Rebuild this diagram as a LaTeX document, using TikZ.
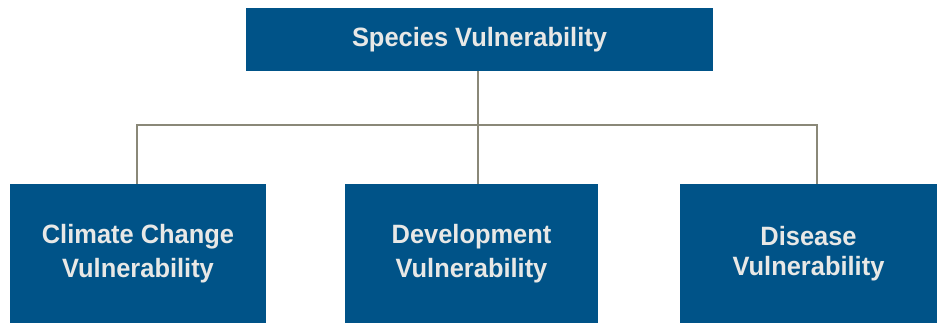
\documentclass[tikz,border=0pt]{standalone}
\usepackage{fontspec}
\setmainfont{Liberation Sans}[FakeStretch=0.96]
\definecolor{boxblue}{HTML}{005388}
\definecolor{boxtext}{HTML}{E8E8E6}
\definecolor{linkgray}{HTML}{8A8878}

\begin{document}
\begin{tikzpicture}[x=1pt, y=-1pt,
		vbox/.style={fill=boxblue, text=boxtext, font=\fontsize{26.5}{34}\selectfont\bfseries,
			align=center, inner sep=0pt},
		link/.style={draw=linkgray, line width=2pt}]
		\useasboundingbox (0,0) rectangle (939,324);
		\node [vbox, minimum width=467, minimum height=63] (species) at (479.5,39.5) {Species Vulnerability};
		\node [vbox, minimum width=256, minimum height=139] (climate) at (138,253.5) {Climate Change\\Vulnerability};
		\node [vbox, minimum width=253, minimum height=139] (devel) at (471.5,253.5) {Development\\Vulnerability};
		\node [vbox, minimum width=257, minimum height=139, font=\fontsize{26.5}{30}\selectfont\bfseries] (disease) at (808.5,253.5) {Disease\\Vulnerability};
		\coordinate (busl) at (137,125);
		\coordinate (busm) at (478,125);
		\coordinate (busr) at (817,125);
		\draw [link] (species.south -| busm) -- (devel.north -| busm);
		\draw [link] (climate.north -| busl) -- (busl) -- (busr) -- (disease.north -| busr);
	\end{tikzpicture}
\end{document}
